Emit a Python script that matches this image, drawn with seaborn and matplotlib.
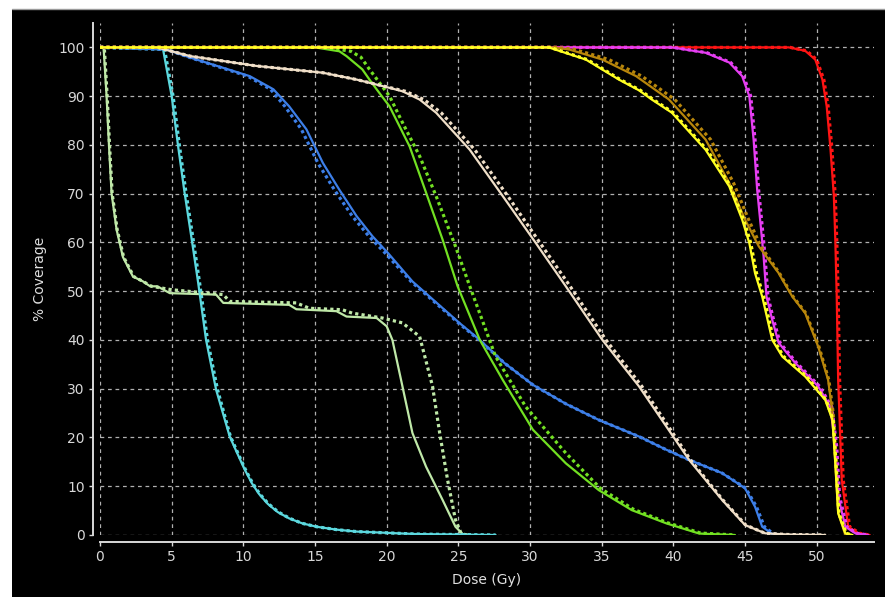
import matplotlib
matplotlib.use("Agg")
import matplotlib.pyplot as plt
from matplotlib.patches import Rectangle
import seaborn as sns
import pandas as pd

# ---- data: dose (Gy) / % coverage, solid = plan A, dotted = plan B ----
lg_a_x = [0, 0.25, 0.46, 0.63, 0.81, 1.16, 1.6, 2.3, 3.0, 3.5, 4.0, 4.87, 8.1, 8.6, 13.2, 13.7, 16.5, 17.2, 19.3, 20.0, 20.4, 21.1, 21.8, 22.75, 23.9, 24.8, 25.3, 25.8]
lg_a_y = [100, 100, 90, 79.7, 70, 62.6, 57, 53, 52, 51, 51, 49.6, 49.3, 47.6, 47.2, 46.3, 45.9, 44.8, 44.5, 42.8, 40, 30.5, 20.9, 14, 7.2, 1.7, 0.2, 0]
lg_b_x = [0, 0.3, 0.5, 0.67, 0.85, 1.2, 1.65, 2.35, 3.0, 3.6, 5.0, 8.6, 9.05, 13.7, 14.6, 16.9, 17.6, 19.7, 21.1, 22.3, 23.2, 23.7, 24.25, 24.8, 25.2, 25.6]
lg_b_y = [100, 100, 90, 79.7, 70, 62.6, 57, 53, 52, 51, 50.3, 49.3, 47.9, 47.6, 46.5, 46.2, 45.5, 44.5, 43.5, 40.7, 30.5, 20.9, 11.3, 3.1, 0.3, 0]

cy_a_x = [0, 4.4, 5.0, 5.45, 5.9, 6.4, 6.85, 7.4, 8.1, 9.05, 9.6, 10.1, 10.6, 11.1, 11.7, 12.4, 13.2, 14.1, 15.1, 16.5, 17.9, 22, 27.6]
cy_a_y = [100, 99.6, 90, 79.7, 70.2, 60.6, 51.7, 40, 29.8, 20.2, 16.6, 13.4, 10.6, 8.4, 6.4, 4.7, 3.4, 2.4, 1.7, 1.1, 0.7, 0.2, 0]
cy_b_x = [0, 4.5, 5.1, 5.55, 6.0, 6.5, 6.95, 7.5, 8.2, 9.1, 9.65, 10.15, 10.65, 11.15, 11.75, 12.45, 13.25, 14.1, 15.1, 16.5, 17.9, 22, 27.6]
cy_b_y = cy_a_y

bl_a_x = [0, 4.6, 6.3, 8.6, 10.45, 12.1, 13.2, 14.4, 15.55, 16.7, 17.9, 19.0, 20.1, 21.8, 25.07, 26.5, 28.2, 30.2, 32.5, 34.8, 37.6, 39.5, 41.1, 43.4, 45.0, 45.7, 46.2, 46.9, 47.5]
bl_a_y = [100, 99.6, 97.9, 95.8, 94.1, 91.4, 87.9, 83.2, 76.3, 70.8, 65.4, 61.3, 57.8, 52, 43.5, 40, 35.3, 30.8, 26.9, 23.6, 20.2, 17.5, 15.4, 12.7, 9.6, 5.8, 1.7, 0.2, 0]
bl_b_x = [0, 4.6, 6.3, 8.5, 10.3, 11.9, 12.9, 14.05, 15.2, 16.35, 17.6, 18.75, 19.9, 21.7, 25.0, 26.45, 28.2, 30.2, 32.5, 34.8, 37.6, 39.5, 41.1, 43.4, 45.05, 45.8, 46.35, 47.0, 47.5]
bl_b_y = bl_a_y

gr_a_x = [0, 15.0, 16.7, 17.2, 18.3, 18.8, 19.3, 20.2, 21.6, 22.75, 23.9, 24.95, 26.5, 28.1, 30.2, 32.5, 34.8, 37.1, 39.5, 41.8, 44.3]
gr_a_y = [100, 100, 99.2, 98.2, 95.5, 93.4, 91.4, 87.9, 79.7, 70.2, 60.6, 51, 40, 31.8, 21.6, 14.7, 9.2, 5.1, 2.4, 0.3, 0]
gr_b_x = [0, 15.8, 17.5, 18.2, 18.8, 20.2, 21.2, 22.3, 23.45, 24.8, 25.8, 27.6, 29.7, 32.5, 34.9, 37.2, 39.6, 41.9, 44.3]
gr_b_y = [100, 100, 99.2, 98, 95.5, 90, 84, 77.7, 69.5, 59.2, 51, 36.6, 26.3, 16.8, 9.6, 5.3, 2.5, 0.4, 0]

be_a_x = [0, 3.95, 6.3, 10.9, 15.55, 17.9, 20.2, 21.1, 22.3, 23.45, 25.8, 28.1, 30.4, 32.5, 35.05, 37.6, 41.1, 43.4, 45.0, 46.4, 48.0, 50.6]
be_a_y = [100, 100, 98.2, 96.2, 94.8, 93.4, 91.7, 91.0, 89.3, 86.6, 79, 69.5, 59.9, 51, 40, 30.5, 15.4, 7.2, 2.05, 0.35, 0.1, 0]
be_b_x = [0, 4.0, 6.3, 10.9, 15.55, 17.9, 20.3, 21.3, 22.6, 23.8, 26.15, 28.45, 30.7, 32.8, 35.3, 37.8, 41.2, 43.45, 45.05, 46.4, 48.0, 50.6]
be_b_y = be_a_y

ye_a_x = [0, 31.3, 33.9, 36.2, 37.6, 38.5, 39.9, 42.25, 43.9, 44.8, 45.3, 45.7, 46.2, 46.9, 47.6, 49.2, 50.6, 51.1, 51.3, 51.5, 52.0, 52.5]
ye_a_y = [100, 100, 97.5, 93.4, 91.2, 89.3, 86.6, 79, 71.5, 64.7, 59.9, 53.7, 48.9, 40, 36.6, 32.5, 27.7, 23.6, 14.7, 4.5, 0.35, 0]
ye_b_x = [0, 31.4, 34.0, 36.3, 37.7, 38.6, 40.0, 42.35, 44.0, 44.9, 45.4, 45.8, 46.3, 47.0, 47.7, 49.3, 50.65, 51.15, 51.35, 51.55, 52.05, 52.5]
ye_b_y = ye_a_y

br_a_x = [0, 31.5, 32.7, 35.05, 37.4, 39.7, 42.25, 43.9, 45.0, 45.96, 47.35, 47.6, 48.3, 49.2, 50.1, 50.8, 51.1, 51.3, 51.5, 52.0]
br_a_y = [100, 100, 99.6, 97.5, 94.1, 89.3, 81.1, 72.2, 64.7, 59.2, 53.7, 52.4, 48.9, 45.5, 38.7, 31.8, 25, 14.7, 4.5, 0]
br_b_x = [0, 31.8, 33.1, 35.5, 37.8, 40.1, 42.6, 44.2, 45.25, 46.1, 47.4, 47.65, 48.35, 49.25, 50.15, 50.85, 51.15, 51.35, 51.55, 52.1]
br_b_y = br_a_y

mg_a_x = [0, 39.9, 42.25, 43.9, 44.8, 45.3, 45.6, 45.85, 46.1, 46.3, 46.5, 46.9, 47.35, 48.5, 50.1, 50.95, 51.3, 51.5, 52.0, 52.7, 53.6]
mg_a_y = [100, 100, 98.9, 96.9, 94.1, 90, 81.1, 70.8, 63.3, 57.1, 48.9, 44.1, 39.4, 35.3, 30.5, 26.3, 18.1, 7.9, 1.7, 0.35, 0]
mg_b_x = [0, 40.0, 42.35, 44.0, 44.9, 45.4, 45.7, 45.95, 46.2, 46.4, 46.6, 47.0, 47.45, 48.6, 50.2, 51.05, 51.4, 51.6, 52.1, 52.8, 53.6]
mg_b_y = mg_a_y

rd_a_x = [0, 48.05, 49.2, 49.9, 50.4, 50.7, 50.95, 51.2, 51.3, 51.4, 51.5, 51.75, 52.2, 52.9, 53.7]
rd_a_y = [100, 100, 99.3, 97.5, 93.4, 87.9, 79.7, 69.5, 60.6, 48.9, 31.8, 11.3, 1.7, 0.35, 0]
rd_b_x = [0, 48.15, 49.3, 50.0, 50.5, 50.8, 51.05, 51.3, 51.4, 51.5, 51.6, 51.85, 52.3, 53.0, 53.7]
rd_b_y = rd_a_y

# drawing order: later entries sit on top
curves = [
    ("#bfe8a8", lg_a_x, lg_a_y, lg_b_x, lg_b_y),
    ("#5cd8de", cy_a_x, cy_a_y, cy_b_x, cy_b_y),
    ("#3d7fe8", bl_a_x, bl_a_y, bl_b_x, bl_b_y),
    ("#72e022", gr_a_x, gr_a_y, gr_b_x, gr_b_y),
    ("#f0dfc8", be_a_x, be_a_y, be_b_x, be_b_y),
    ("#ff1414", rd_a_x, rd_a_y, rd_b_x, rd_b_y),
    ("#e63ef2", mg_a_x, mg_a_y, mg_b_x, mg_b_y),
    ("#b8860b", br_a_x, br_a_y, br_b_x, br_b_y),
    ("#ffff22", ye_a_x, ye_a_y, ye_b_x, ye_b_y),
]

sns.set_theme(style="dark")
fig = plt.figure(figsize=(8.85, 5.97), dpi=100)
fig.patch.set_facecolor("white")
bg = Rectangle((12 / 885, 0), 1, 1 - 9 / 597, transform=fig.transFigure,
               facecolor="black", edgecolor="none", zorder=-10)
fig.patches.append(bg)
topline = plt.Line2D([12 / 885, 1], [1 - 8.5 / 597] * 2, transform=fig.transFigure,
                     color="#9a9a9a", lw=1, zorder=-9)
fig.lines.append(topline)

ax = fig.add_axes([100 / 885, 1 - 535 / 597, 774 / 885, 512 / 597])
ax.set_facecolor("black")
ax.set_zorder(1)

for col, xa, ya, xb, yb in curves:
    sns.lineplot(x=xa, y=ya, ax=ax, color=col, lw=1.6, sort=False, estimator=None)
    sns.lineplot(x=xb, y=yb, ax=ax, color=col, lw=2.3, linestyle=(0, (1.0, 1.0)),
                 sort=False, estimator=None)

ax.set_xlim(0, 54)
ax.set_ylim(0, 105)
ax.set_xticks(range(0, 51, 5))
ax.set_yticks(range(0, 101, 10))
ax.grid(True, color="#b0b0b0", linestyle=(0, (3, 3)), lw=0.9)
ax.set_axisbelow(True)

for s in ["top", "right"]:
    ax.spines[s].set_visible(False)
for s in ["left", "bottom"]:
    ax.spines[s].set_visible(True)
    ax.spines[s].set_color("#d8d8d8")
    ax.spines[s].set_linewidth(1.4)
    ax.spines[s].set_position(("outward", 5))

ax.tick_params(axis="both", colors="#d8d8d8", labelcolor="#d8d8d8", labelsize=10,
               length=3, width=1, direction="out", bottom=True, left=True, pad=3)
ax.set_xlabel("Dose (Gy)", color="#e0e0e0", fontsize=10, labelpad=6)
ax.set_ylabel("% Coverage", color="#e0e0e0", fontsize=10, labelpad=8)

fig.savefig("out.png", dpi=100, facecolor=fig.get_facecolor())
